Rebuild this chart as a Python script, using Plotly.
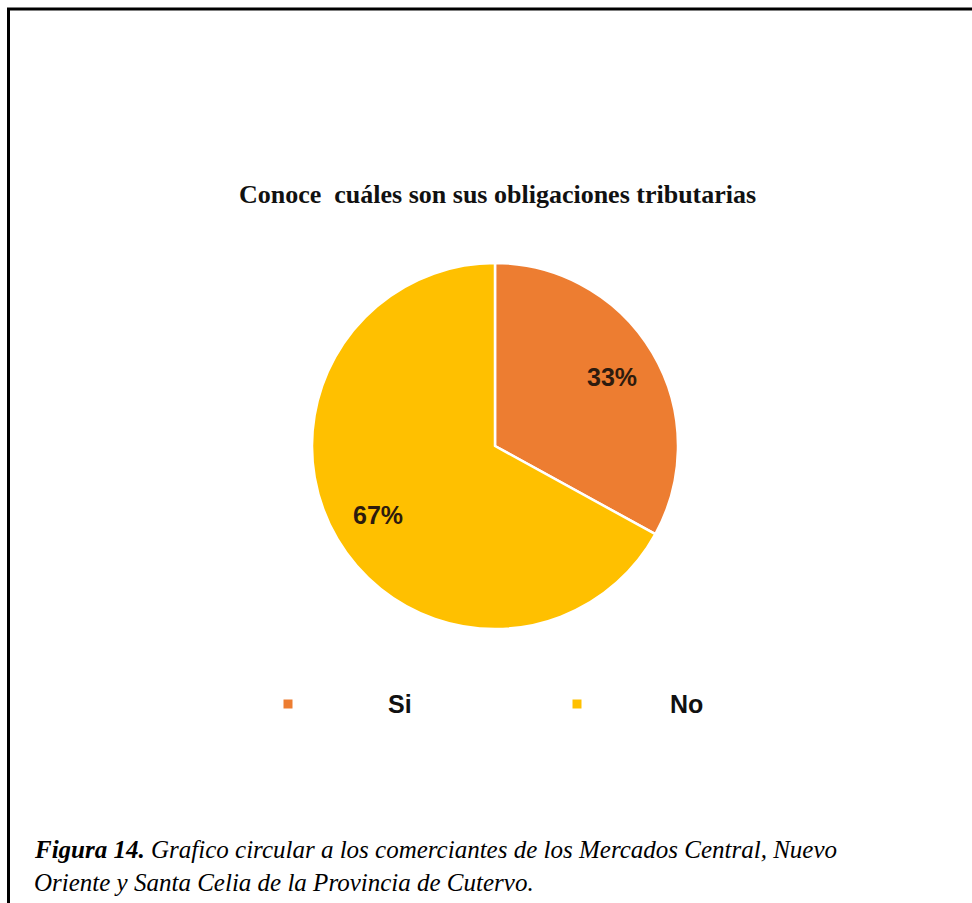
import math
import plotly.graph_objects as go

labels = ["Si", "No"]
values = [33, 67]
colors = ["#ED7D31", "#FFC000"]
title_text = "Conoce\u00a0\u00a0cuáles son sus obligaciones tributarias"
caption_line1 = "<b>Figura 14.</b> Grafico circular a los comerciantes de los Mercados Central, Nuevo"
caption_line2 = "Oriente y Santa Celia de la Provincia de Cutervo."

W, H = 972, 903
CX, CY, R = 495, 446, 183

def px(x):
    return x / W

def py(y):
    return 1 - y / H

fig = go.Figure()
fig.add_trace(go.Pie(
    labels=labels, values=values, sort=False, direction="clockwise", rotation=0,
    marker=dict(colors=colors, line=dict(color="white", width=2.5)),
    textinfo="none",
    domain=dict(x=[px(CX - R), px(CX + R)], y=[py(CY + R), py(CY - R)]),
    showlegend=False, hoverinfo="label+percent",
))

shapes = [
    dict(type="line", xref="paper", yref="paper", x0=px(7), x1=1, y0=py(9), y1=py(9),
         line=dict(color="black", width=3)),
    dict(type="line", xref="paper", yref="paper", x0=px(8.5), x1=px(8.5), y0=py(8), y1=0,
         line=dict(color="black", width=3)),
]
serif = "Liberation Serif, Times New Roman"
sans = "Liberation Sans, Arial"
annotations = [
    dict(text="<b>" + title_text + "</b>", x=px(497), y=py(195), xref="paper", yref="paper",
         showarrow=False, xanchor="center", yanchor="middle",
         font=dict(family=serif, size=26, color="#111")),
    dict(text="<i>" + caption_line1 + "</i>", x=px(32), y=py(849), xref="paper", yref="paper",
         showarrow=False, xanchor="left", yanchor="middle",
         font=dict(family=serif, size=25, color="#000")),
    dict(text="<i>" + caption_line2 + "</i>", x=px(32), y=py(882), xref="paper", yref="paper",
         showarrow=False, xanchor="left", yanchor="middle",
         font=dict(family=serif, size=25, color="#000")),
]

# percentage labels placed at the middle angle of each slice
total = sum(values)
start = 0.0
for v in values:
    mid = (start + v / 2) / total * 2 * math.pi
    start += v
    r = 0.74 * R
    lx = CX + r * math.sin(mid)
    ly = CY - r * math.cos(mid)
    annotations.append(dict(text="<b>%d%%</b>" % round(100 * v / total), x=px(lx), y=py(ly),
                            xref="paper", yref="paper", showarrow=False,
                            xanchor="center", yanchor="middle",
                            font=dict(family=sans, size=25, color="#2d1b0e")))

legend_marker_x = [288, 577]
legend_text_x = [400, 686]
for lab, col, mx, tx in zip(labels, colors, legend_marker_x, legend_text_x):
    shapes.append(dict(type="rect", xref="paper", yref="paper",
                       x0=px(mx - 4.5), x1=px(mx + 4.5), y0=py(704 + 4.5), y1=py(704 - 4.5),
                       fillcolor=col, line=dict(width=0)))
    annotations.append(dict(text="<b>" + lab + "</b>", x=px(tx), y=py(704), xref="paper", yref="paper",
                            showarrow=False, xanchor="center", yanchor="middle",
                            font=dict(family=sans, size=25, color="#111")))

fig.update_layout(
    width=W, height=H, margin=dict(l=0, r=0, t=0, b=0),
    paper_bgcolor="white", plot_bgcolor="white",
    shapes=shapes, annotations=annotations, showlegend=False,
)
fig.write_html("out.html")
